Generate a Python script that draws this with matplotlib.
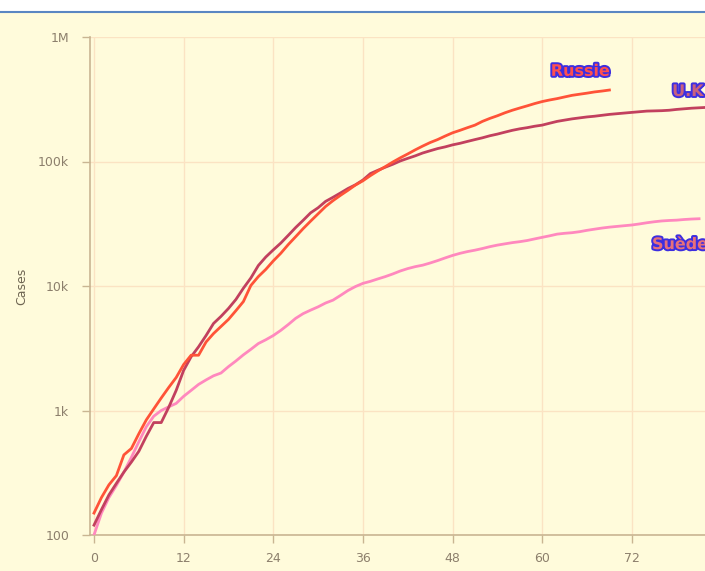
import matplotlib
matplotlib.use("Agg")
import matplotlib.pyplot as plt
import matplotlib.patheffects as pe
from matplotlib.patches import Rectangle
from matplotlib.lines import Line2D

# ---- data ----
russia = [150, 200, 253, 300, 440, 495, 650, 840, 1030, 1260,
          1530, 1840, 2340, 2780, 2780, 3550, 4150, 4730, 5390, 6340,
          7500, 10100, 11900, 13600, 15900, 18300, 21500, 24900, 28900, 33200,
          38000, 43500, 48500, 53500, 58700, 64700, 70000, 77000, 84000, 91000,
          99000, 107000, 115000, 124000, 133000, 142000, 150000, 160000, 170000, 178000,
          187000, 196000, 210000, 222000, 233000, 246000, 258000, 269000, 280000, 292000,
          303000, 312000, 320000, 330000, 340000, 347000, 354000, 362000, 368000, 375000]

uk = [120, 160, 210, 260, 320, 385, 470, 620, 800, 800,
      1060, 1450, 2100, 2700, 3250, 4000, 5000, 5700, 6600, 7800,
      9600, 11600, 14600, 17100, 19500, 22100, 25500, 29500, 33700, 38700,
      42500, 47800, 51600, 55900, 60700, 65000, 71000, 80000, 85000, 90000,
      95000, 101000, 106000, 111000, 117000, 122000, 127000, 131000, 136000, 140000,
      145000, 150000, 155000, 161000, 166000, 172000, 178000, 183000, 187000, 192000,
      196000, 203000, 210000, 215000, 220000, 224000, 228000, 231000, 235000, 239000,
      242000, 245000, 248000, 251000, 254000, 255000, 256000, 258000, 262000, 265000,
      268000, 270000, 272000, 274000]

sweden = [100, 150, 200, 250, 320, 420, 560, 740, 900, 1000,
          1070, 1140, 1300, 1450, 1620, 1760, 1900, 2000, 2250, 2500,
          2800, 3100, 3450, 3700, 4000, 4400, 4900, 5500, 6000, 6400,
          6800, 7300, 7700, 8400, 9200, 9900, 10500, 10900, 11400, 11900,
          12500, 13200, 13800, 14300, 14700, 15300, 16000, 16800, 17600, 18300,
          18900, 19400, 20000, 20700, 21300, 21800, 22300, 22700, 23200, 23900,
          24600, 25300, 26100, 26500, 26800, 27300, 28000, 28600, 29200, 29700,
          30100, 30500, 30900, 31500, 32200, 32800, 33300, 33600, 33800, 34200,
          34500, 34700]

series_names = ["Russie", "U.K", "Suède"]
x_ticks = [0, 12, 24, 36, 48, 60, 72]
y_ticks = [100, 1000, 10000, 100000, 1000000]
y_tick_labels = ["100", "1k", "10k", "100k", "1M"]

# ---- style ----
BG = "#FFFBDB"
GRID = "#FBE3C3"
AXIS = "#C9B592"
TICKTXT = "#8C7F6C"
colors = {"Russie": "#FF5338", "U.K": "#C2405E", "Suède": "#FF88BE"}
label_fill = {"Russie": "#FF4F4F", "U.K": "#C8607E", "Suède": "#E7707A"}
OUTLINE = "#3D2EE0"

fig = plt.figure(figsize=(7.05, 5.71), dpi=100)
fig.patch.set_facecolor(BG)
# white strip + blue rule at the very top
fig.add_artist(Rectangle((0, 1 - 11/571), 1, 11/571, transform=fig.transFigure,
                         facecolor="white", edgecolor="none", zorder=0))
fig.add_artist(Line2D([0, 1], [1 - 12/571, 1 - 12/571], transform=fig.transFigure,
                      color="#5A86C2", linewidth=1.5, zorder=1))

ax = fig.add_axes([90/705, 36/571, 0.8957, 498/571])
ax.set_facecolor(BG)
ax.set_yscale("log")
ax.set_ylim(100, 1e6)
ax.set_xlim(-0.535, 84)

ax.plot(range(len(sweden)), sweden, color=colors["Suède"], lw=2.0, zorder=3,
        solid_joinstyle="round")
ax.plot(range(len(uk)), uk, color=colors["U.K"], lw=2.0, zorder=4,
        solid_joinstyle="round")
ax.plot(range(len(russia)), russia, color=colors["Russie"], lw=2.0, zorder=5,
        solid_joinstyle="round")

ax.set_xticks(x_ticks)
ax.set_xticklabels([str(t) for t in x_ticks])
ax.set_yticks(y_ticks)
ax.set_yticklabels(y_tick_labels)
ax.yaxis.set_minor_locator(matplotlib.ticker.NullLocator())

ax.grid(True, color=GRID, linewidth=1.0, zorder=0)
ax.set_axisbelow(True)
for s in ["top", "right"]:
    ax.spines[s].set_visible(False)
for s in ["left", "bottom"]:
    ax.spines[s].set_color(AXIS)
    ax.spines[s].set_linewidth(1.2)
ax.tick_params(axis="both", colors=AXIS, labelcolor=TICKTXT, labelsize=9,
               length=6, width=1.0, direction="out")
ax.tick_params(axis="x", pad=6)
ax.tick_params(axis="y", pad=9)

ax.set_ylabel("Cases", color="#6E6552", fontsize=9)
ax.yaxis.set_label_coords(-0.098, 0.5)

eff = [pe.Stroke(linewidth=2.8, foreground=OUTLINE), pe.Normal()]
ax.text(65.1, 5.3e5, "Russie", ha="center", va="center", fontsize=11.5,
        fontweight="bold", color=label_fill["Russie"], path_effects=eff, zorder=6)
ax.text(77.4, 3.65e5, "U.K", ha="left", va="center", fontsize=11.5,
        fontweight="bold", color=label_fill["U.K"], path_effects=eff, zorder=6)
ax.text(74.7, 2.15e4, "Suède", ha="left", va="center", fontsize=11.5,
        fontweight="bold", color=label_fill["Suède"], path_effects=eff, zorder=6)

fig.savefig("out.png", dpi=100, facecolor=BG)
